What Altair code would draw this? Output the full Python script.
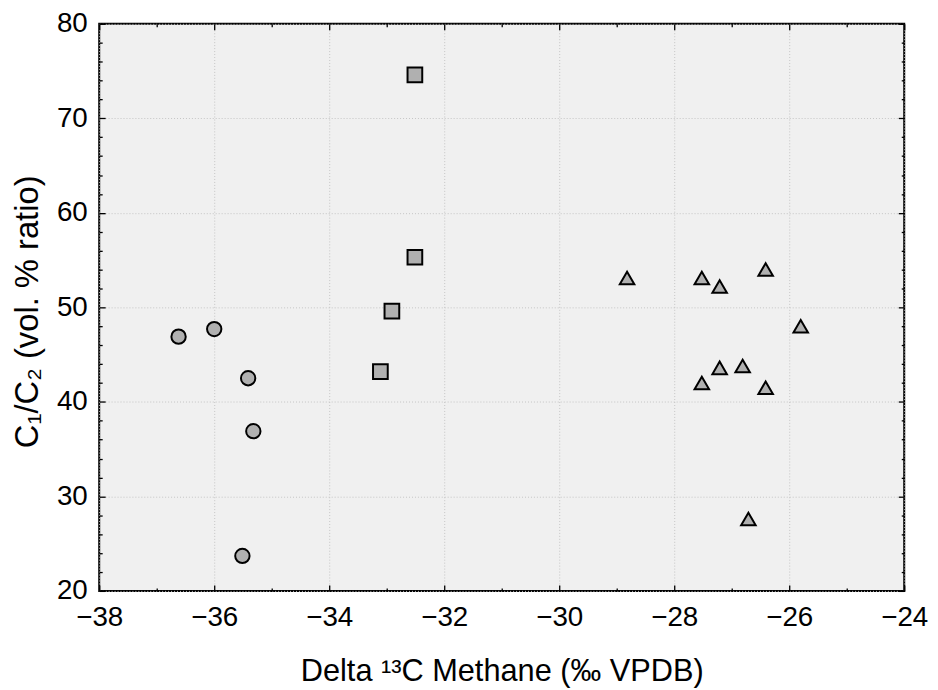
import altair as alt
import pandas as pd

# --- data ---
circle_x = [-36.62, -36.0, -35.41, -35.32, -35.51]
circle_y = [46.9, 47.7, 42.5, 36.9, 23.7]
square_x = [-32.51, -32.51, -32.91, -33.11]
square_y = [74.6, 55.3, 49.6, 43.2]
tri_x = [-28.82, -27.52, -27.21, -26.41, -25.80, -27.21, -26.81, -27.52, -26.41, -26.71]
tri_y = [53.1, 53.1, 52.2, 54.0, 48.0, 43.6, 43.8, 42.0, 41.5, 27.6]

x_major = [-38, -36, -34, -32, -30, -28, -26, -24]
x_minor = [-37, -35, -33, -31, -29, -27, -25]
y_major = [20, 30, 40, 50, 60, 70, 80]
y_minor = [22, 24, 26, 28, 32, 34, 36, 38, 42, 44, 46, 48, 52, 54, 56, 58,
           62, 64, 66, 68, 72, 74, 76, 78]

x_title = "Delta \u00b9\u00b3C Methane (\u2030 VPDB)"
y_title = "C\u2081/C\u2082 (vol. % ratio)"

df_c = pd.DataFrame({"x": circle_x, "y": circle_y})
df_s = pd.DataFrame({"x": square_x, "y": square_y})
df_t = pd.DataFrame({"x": tri_x, "y": tri_y})

W, H = 812, 572
FONT = "Liberation Sans"
xs = alt.Scale(domain=[-38, -24], nice=False, zero=False)
ys = alt.Scale(domain=[20, 80], nice=False, zero=False)

main_x_axis = alt.Axis(
    orient="bottom", values=x_major, ticks=False, domain=False, grid=True,
    gridColor="#c4c4c4", gridDash=[1, 2], gridWidth=1,
    labelFontSize=28, labelFont=FONT, labelColor="black", labelPadding=13,
    labelFlush=False, format="d",
    title=x_title, titleFont=FONT, titleFontSize=31, titleFontWeight="normal",
    titleColor="black", titleX=W / 2, titleY=90, titleBaseline="alphabetic",
    titleAlign="center",
)
main_y_axis = alt.Axis(
    orient="left", values=y_major, ticks=False, domain=False, grid=True,
    gridColor="#c4c4c4", gridDash=[1, 2], gridWidth=1,
    labelFontSize=28, labelFont=FONT, labelColor="black", labelPadding=12,
    labelFlush=False, format="d",
    title=y_title, titleFont=FONT, titleFontSize=33, titleFontWeight="normal",
    titleColor="black", titleAngle=270, titleX=-62, titleY=H / 2 + 4,
    titleBaseline="alphabetic", titleAlign="center",
)

def point_layer(df, shape, size, xaxis=None, yaxis=None):
    return alt.Chart(df).mark_point(
        shape=shape, size=size, filled=True, fill="#b0b0b0", stroke="black",
        strokeWidth=2, opacity=1,
    ).encode(
        x=alt.X("x:Q", scale=xs, axis=xaxis),
        y=alt.Y("y:Q", scale=ys, axis=yaxis),
    )

def tick_axis(orient, values, size):
    return alt.Axis(
        orient=orient, offset=-size, values=values, tickSize=size,
        tickColor="black", tickWidth=1.3, ticks=True, labels=False,
        domain=False, grid=False, title=None,
    )

layers = []
for orient in ["bottom", "top"]:
    for vals, sz in [(x_major, 6), (x_minor, 3)]:
        layers.append(
            alt.Chart(df_c).mark_point(opacity=0).encode(
                x=alt.X("x:Q", scale=xs, axis=tick_axis(orient, vals, sz)),
                y=alt.Y("y:Q", scale=ys, axis=None),
            )
        )
for orient in ["left", "right"]:
    for vals, sz in [(y_major, 6), (y_minor, 3)]:
        layers.append(
            alt.Chart(df_c).mark_point(opacity=0).encode(
                x=alt.X("x:Q", scale=xs, axis=None),
                y=alt.Y("y:Q", scale=ys, axis=tick_axis(orient, vals, sz)),
            )
        )

points = [
    point_layer(df_c, "circle", 210, main_x_axis, main_y_axis),
    point_layer(df_s, "square", 220),
    point_layer(df_t, "triangle-up", 215),
]

chart = alt.layer(*points, *layers).resolve_axis(
    x="independent", y="independent"
).properties(
    width=W, height=H,
    autosize=alt.AutoSizeParams(type="none"),
    padding={"left": 92, "top": 13, "right": 26, "bottom": 95},
    background="white",
).configure_view(
    fill="#f0f0f0", stroke="black", strokeWidth=2,
)

chart.save("out.html", embed_options={"renderer": "svg", "actions": False})
